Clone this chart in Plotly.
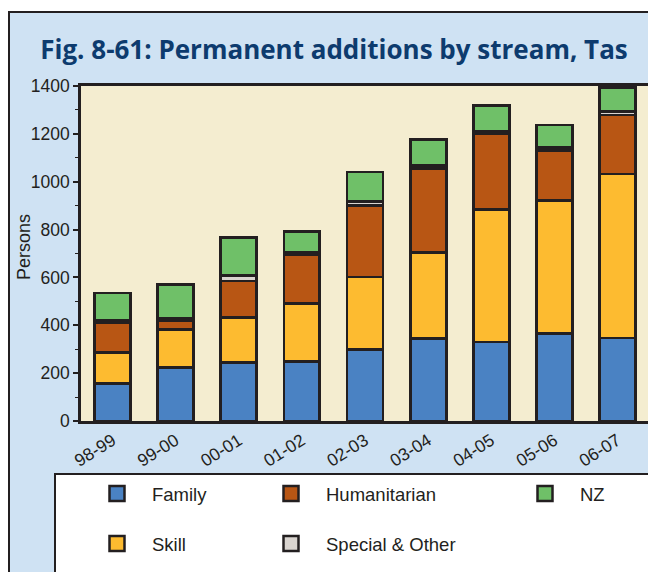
import plotly.graph_objects as go

years = ["98-99", "99-00", "00-01", "01-02", "02-03", "03-04", "04-05", "05-06", "06-07"]
family = [156, 222, 244, 250, 299, 345, 330, 365, 347]
skill = [130, 161, 188, 241, 303, 358, 554, 558, 685]
humanitarian = [124, 38, 153, 206, 300, 353, 318, 209, 247]
special = [11, 7, 24, 8, 14, 13, 10, 10, 13]
nz = [114, 144, 159, 88, 125, 109, 108, 95, 102]

# page has an 8px body margin; positions below are in screenshot pixels
O = 8
W, H = 656, 572
L, R, T, B = 81 - O, 649 - O, 86 - O, 421 - O

def px(x):
    return (x - O - L) / (R - L)

def py(y):
    return (B - (y - O)) / (B - T)

series = [
    ("Family", family, "#4a82c3", "legend", 1),
    ("Skill", skill, "#fdbb30", "legend", 2),
    ("Humanitarian", humanitarian, "#b85614", "legend2", 1),
    ("Special & Other", special, "#d9d4cf", "legend2", 2),
    ("NZ", nz, "#6fc068", "legend3", 1),
]
edge = "#231f20"

fig = go.Figure()
for name, vals, col, leg, rank in series:
    fig.add_trace(go.Bar(
        x=years, y=vals, name=name, showlegend=False, legendgroup=name,
        marker=dict(color=col, line=dict(color=edge, width=2.8)),
    ))
# legend-only entries with larger square swatches
for name, vals, col, leg, rank in series:
    fig.add_trace(go.Scatter(
        x=[None], y=[None], mode="markers", name=name, legend=leg, legendrank=rank,
        legendgroup=name,
        marker=dict(symbol="square", size=15, color=col, line=dict(color=edge, width=2.5)),
    ))

font = "Liberation Sans, Arial, sans-serif"
leg_common = dict(
    orientation="v", xanchor="left", yanchor="top", bgcolor="rgba(0,0,0,0)",
    font=dict(family=font, size=18.5, color=edge), tracegroupgap=23, itemwidth=60,
)
fig.update_layout(
    width=W, height=H,
    margin=dict(l=L, r=W - R, t=T, b=H - B, autoexpand=False),
    paper_bgcolor="white",
    plot_bgcolor="#f4edd0",
    barmode="stack",
    bargap=0.43,
    title=dict(
        text="<b>Fig. 8-61: Permanent additions by stream, Tas</b>",
        font=dict(family="Open Sans, sans-serif", size=26, color="#0d3b6e"),
        x=(334 - O) / W, xanchor="center", y=1 - (50 - O) / H, yanchor="middle",
    ),
    legend=dict(x=px(82), y=py(475), **leg_common),
    legend2=dict(x=px(256), y=py(475), **leg_common),
    legend3=dict(x=px(510), y=py(475), **leg_common),
    xaxis=dict(
        type="category", categoryorder="array", categoryarray=years, automargin=False,
        tickangle=-32, showline=True, linecolor=edge, linewidth=2.5, mirror=True,
        ticks="", tickfont=dict(family=font, size=17.5, color=edge),
    ),
    yaxis=dict(
        range=[0, 1400], dtick=200, showgrid=False, zeroline=False, automargin=False,
        showline=True, linecolor=edge, linewidth=2.5, mirror=True,
        ticks="outside", ticklen=5, tickwidth=1.5, tickcolor=edge,
        minor=dict(dtick=100, ticks="outside", ticklen=3, tickwidth=1, tickcolor=edge),
        tickfont=dict(family=font, size=17.5, color=edge),
    ),
    annotations=[
        dict(text="Persons", xref="paper", yref="paper", x=px(24), y=py(247),
             xanchor="center", yanchor="middle", textangle=-90, showarrow=False,
             font=dict(family=font, size=18, color=edge)),
    ],
    shapes=[
        dict(type="rect", xref="paper", yref="paper", x0=px(9), x1=px(W + 20), y0=py(H + 20), y1=py(12),
             fillcolor="#cfe2f3", line=dict(color=edge, width=2), layer="below"),
        dict(type="rect", xref="paper", yref="paper", x0=0, x1=1, y0=0, y1=1,
             fillcolor="#f4edd0", line=dict(width=0), layer="below"),
        dict(type="rect", xref="paper", yref="paper", x0=px(55), x1=px(W + 20), y0=py(H + 20), y1=py(474),
             fillcolor="white", line=dict(color=edge, width=2), layer="below"),
    ],
)

fig.write_html("out.html")
